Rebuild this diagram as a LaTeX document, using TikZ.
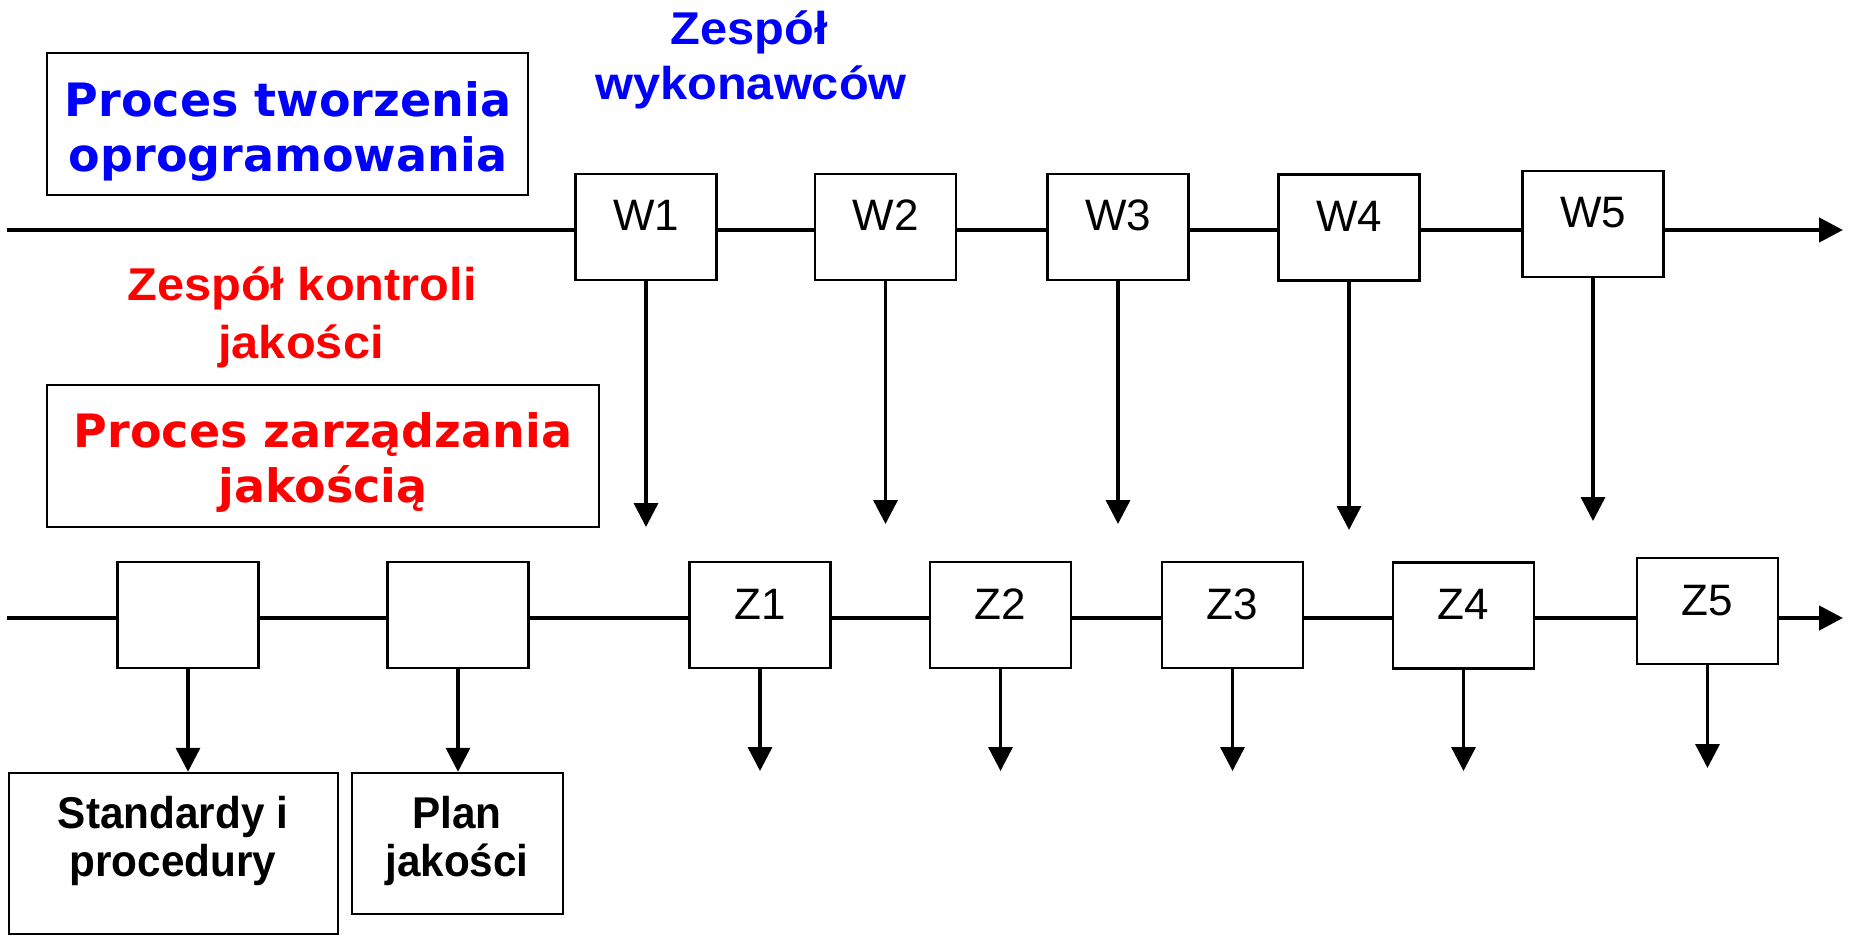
\documentclass[tikz,border=0pt]{standalone}
\usepackage{fontspec}
\setmainfont{Liberation Sans}
\newfontfamily\verd{DejaVu Sans}
\newfontfamily\lblfont{Liberation Sans}[FakeStretch=1.06]
\newfontfamily\blkfont{Liberation Sans}[FakeStretch=0.95]
\usetikzlibrary{arrows.meta}
\definecolor{pblue}{RGB}{0,0,255}
\definecolor{pred}{RGB}{255,0,0}
\begin{document}
\begin{tikzpicture}[x=1pt,y=-1pt,
  box/.style={draw=black, line width=2.5pt, fill=white, inner sep=0pt},
  wbox/.style={box, minimum width=141pt, minimum height=106pt,
    font=\fontsize{44}{50}\selectfont, text height=32pt, text depth=24pt},
  bigbox/.style={draw=black, line width=2.5pt, inner sep=0pt},
  vtxt/.style={font=\verd\bfseries\fontsize{46}{55}\selectfont, anchor=base, inner sep=0pt},
  ltxt/.style={font=\lblfont\bfseries\fontsize{46}{50}\selectfont, anchor=base, inner sep=0pt},
  atxt/.style={font=\blkfont\bfseries\fontsize{44.5}{50}\selectfont, anchor=base, inner sep=0pt},
  seg/.style={line width=4.5pt},
  flow/.style={line width=4.5pt, -{Triangle[width=24pt,length=24pt]}},
  down/.style={line width=3.5pt, -{Triangle[width=24pt,length=24pt]}},
]
\useasboundingbox (0,0) rectangle (1850,936);

% upper left box
\node[bigbox, minimum width=481pt, minimum height=142pt] (ptw) at (287.5,124) {};
\node[vtxt, text=pblue] (ptw1) at (288,117) {Proces tworzenia};
\node[vtxt, text=pblue] (ptw2) at (288,172) {oprogramowania};

% labels
\node[ltxt, text=pblue] (zw1) at (749,45) {Zespół};
\node[ltxt, text=pblue] (zw2) at (751,100) {wykonawców};
\node[ltxt, text=pred] (zk1) at (302,300) {Zespół kontroli};
\node[ltxt, text=pred] (zk2) at (301,358) {jakości};

% lower left box
\node[bigbox, minimum width=552pt, minimum height=142pt] (pzj) at (323,456) {};
\node[vtxt, text=pred] (pzj1) at (323,447) {Proces zarządzania};
\node[vtxt, text=pred] (pzj2) at (323,502) {jakością};

% line levels
\coordinate (ts) at (7,230);
\coordinate (te) at (1843,230);
\coordinate (bs) at (7,618);
\coordinate (be) at (1843,618);

% W boxes
\node[wbox] (W1) at (646,227) {W1};
\node[wbox] (W2) at (885.5,227) {W2};
\node[wbox] (W3) at (1118,227) {W3};
\node[wbox] (W4) at (1349,227.5) {W4};
\node[wbox] (W5) at (1593,224) {W5};

% Z boxes
\node[wbox] (A) at (188,615) {};
\node[wbox] (B) at (458,615) {};
\node[wbox] (Z1) at (760,615) {Z1};
\node[wbox] (Z2) at (1000.5,615) {Z2};
\node[wbox] (Z3) at (1232.5,615) {Z3};
\node[wbox] (Z4) at (1463.5,615.5) {Z4};
\node[wbox] (Z5) at (1707.5,611) {Z5};

% output boxes
\node[bigbox, minimum width=329pt, minimum height=161pt] (std) at (173.5,853.5) {};
\node[atxt] (std1) at (173,828) {Standardy i};
\node[atxt] (std2) at (173,876) {procedury};
\node[bigbox, minimum width=211pt, minimum height=141pt] (plan) at (457.5,843.5) {};
\node[atxt] (plan1) at (457,828) {Plan};
\node[atxt] (plan2) at (457,876) {jakości};

% top flow
\draw[seg] (ts) -- (ts -| W1.west);
\draw[seg] (W1.east |- ts) -- (W2.west |- ts);
\draw[seg] (W2.east |- ts) -- (W3.west |- ts);
\draw[seg] (W3.east |- ts) -- (W4.west |- ts);
\draw[seg] (W4.east |- ts) -- (W5.west |- ts);
\draw[flow] (W5.east |- ts) -- (te);

% bottom flow
\draw[seg] (bs) -- (bs -| A.west);
\draw[seg] (A.east |- bs) -- (B.west |- bs);
\draw[seg] (B.east |- bs) -- (Z1.west |- bs);
\draw[seg] (Z1.east |- bs) -- (Z2.west |- bs);
\draw[seg] (Z2.east |- bs) -- (Z3.west |- bs);
\draw[seg] (Z3.east |- bs) -- (Z4.west |- bs);
\draw[seg] (Z4.east |- bs) -- (Z5.west |- bs);
\draw[flow] (Z5.east |- bs) -- (be);

% W arrows (free ends)
\coordinate (w1t) at (646,527);
\coordinate (w2t) at (885.5,524);
\coordinate (w3t) at (1118,524);
\coordinate (w4t) at (1349,530);
\coordinate (w5t) at (1593,521);
\draw[down] (W1.south) -- (w1t);
\draw[down] (W2.south) -- (w2t);
\draw[down] (W3.south) -- (w3t);
\draw[down] (W4.south) -- (w4t);
\draw[down] (W5.south) -- (w5t);

% Z arrows
\coordinate (z1t) at (760,771);
\coordinate (z2t) at (1000.5,771);
\coordinate (z3t) at (1232.5,771);
\coordinate (z4t) at (1463.5,771);
\coordinate (z5t) at (1707.5,768);
\draw[down] (A.south) -- (A.south |- std.north);
\draw[down] (B.south) -- (B.south |- plan.north);
\draw[down] (Z1.south) -- (z1t);
\draw[down] (Z2.south) -- (z2t);
\draw[down] (Z3.south) -- (z3t);
\draw[down] (Z4.south) -- (z4t);
\draw[down] (Z5.south) -- (z5t);
\end{tikzpicture}
\end{document}
